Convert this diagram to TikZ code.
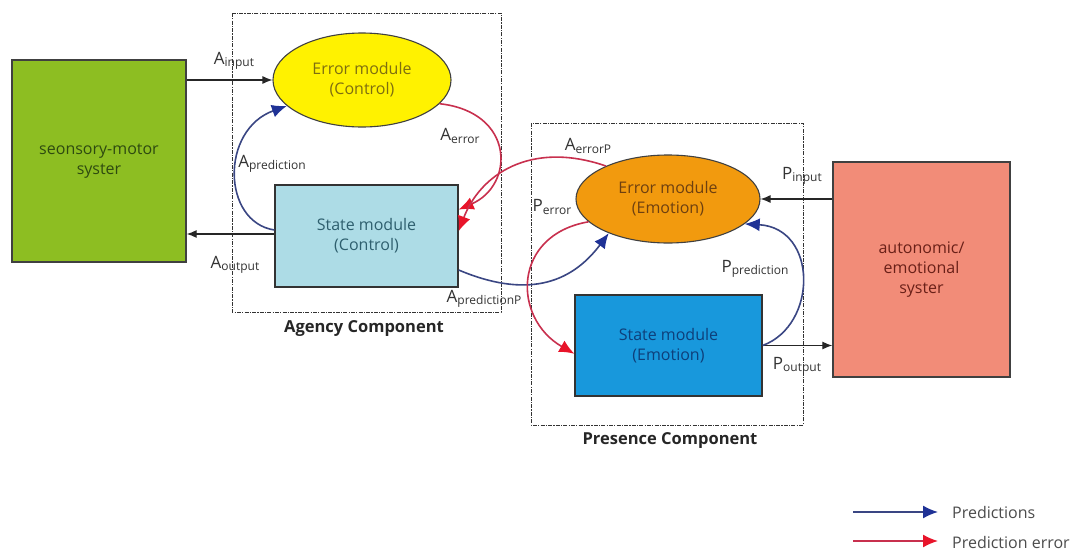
\documentclass[tikz,border=0pt]{standalone}
\usepackage{fontspec}
\setmainfont{Open Sans}
\usetikzlibrary{arrows.meta,shapes.geometric}
\definecolor{smgreen}{HTML}{8DBE22}
\definecolor{smtext}{HTML}{2E4A10}
\definecolor{ctrlyellow}{HTML}{FFF200}
\definecolor{ctrltext}{HTML}{7E6E10}
\definecolor{ctrlblue}{HTML}{ADDCE6}
\definecolor{ctrlbluetext}{HTML}{2E5F6E}
\definecolor{emoorange}{HTML}{F29A0E}
\definecolor{emoorangetext}{HTML}{6E4010}
\definecolor{emoblue}{HTML}{1898DC}
\definecolor{emobluetext}{HTML}{0E3F7A}
\definecolor{autored}{HTML}{F28C78}
\definecolor{autotext}{HTML}{6A2018}
\definecolor{predline}{HTML}{3A4683}
\definecolor{predtip}{HTML}{1F3296}
\definecolor{errline}{HTML}{C8304E}
\definecolor{errtip}{HTML}{E8142A}
\definecolor{labgray}{HTML}{333333}
\tikzset{
  modbox/.style={draw=black!80, line width=1.3pt, align=center, font=\fontsize{16}{20}\selectfont},
  modell/.style={ellipse, draw=black!75, line width=1.1pt, align=center, font=\fontsize{16}{20}\selectfont},
  frame/.style={draw=black!80, line width=1pt, dash pattern=on 4pt off 1.2pt on 1.2pt off 1.2pt},
  flow/.style={draw=black!85, line width=1.2pt, -{Latex[length=10pt,width=8pt]}},
  pred/.style={draw=predline, line width=1.6pt, -{Latex[length=15pt,width=13pt,color=predtip]}},
  perr/.style={draw=errline, line width=1.6pt, -{Latex[length=15pt,width=13pt,color=errtip]}},
  lab/.style={text=labgray, inner sep=0pt, font=\fontsize{17}{17}\selectfont},
  comp/.style={font=\bfseries\fontsize{16.5}{16.5}\selectfont, text=black!85},
}
\newcommand{\sublab}[2]{#1\raisebox{-2.5pt}{\fontsize{12}{12}\selectfont #2}}
\begin{document}
\begin{tikzpicture}[x=1pt,y=-1pt]
\useasboundingbox (0,0) rectangle (1088,557);
\fill[white] (0,0) rectangle (1088,557);

% component frames
\draw[frame] (232,13) rectangle (501,312);
\node[comp] (agency) at (364,329) {Agency Component};
\draw[frame] (531,123) rectangle (803,425);
\node[comp] (presence) at (670,441) {Presence Component};

% outer systems
\node[draw=black!75, line width=1.3pt, fill=smgreen, minimum width=174pt, minimum height=202pt,
      align=center, text=smtext, font=\fontsize{16}{20}\selectfont] (sm) at (99,161) {seonsory-motor\\ syster};
\node[draw=black!75, line width=1.3pt, fill=autored, minimum width=177pt, minimum height=215pt,
      align=center, text=autotext, font=\fontsize{16}{20}\selectfont] (auto) at (921.5,269.5) {autonomic/\\ emotional\\ syster};

% agency modules
\node[modell, fill=ctrlyellow, text=ctrltext, minimum width=178pt, minimum height=94pt] (errc) at (362,80) {Error module\\(Control)};
\node[modbox, fill=ctrlblue, text=ctrlbluetext, minimum width=183pt, minimum height=102pt] (statec) at (366.5,236) {State module\\(Control)};

% presence modules
\node[modell, fill=emoorange, text=emoorangetext, minimum width=184pt, minimum height=88pt] (erre) at (668,199) {Error module\\(Emotion)};
\node[modbox, fill=emoblue, text=emobluetext, minimum width=187pt, minimum height=101pt] (statee) at (668.5,345.5) {State module\\(Emotion)};

% input / output flows
\draw[flow] (sm.east |- errc.west) -- (errc.west);
\draw[flow] (statec.west) ++(0,-2) coordinate (co) -- (sm.east |- co);
\draw[flow] (auto.west |- erre.east) -- (erre.east);
\draw[flow] (statee.east) -- (auto.west |- statee.east);

% prediction loops
\draw[pred] (statec.west) ++(0,-6) .. controls (222,222) and (220,130) .. (errc.-161);
\draw[pred] (statec.east) ++(0,34) .. controls (525,298) and (570,285) .. (erre.-150);
\draw[pred] (statee.east) .. controls (818,325) and (818,228) .. (erre.-18);

% prediction-error loops
\draw[perr] (errc.-17) .. controls (515,112) and (515,185) .. (statec.16);
\draw[perr] (erre.152) .. controls (530,140) and (480,175) .. (statec.3);
\draw[perr] (erre.-164) .. controls (512,235) and (512,318) .. (statee.185);

% flow labels
\node[lab] (lai) at (234,61) {\sublab{A}{input}};
\node[lab] (lao) at (235,265) {\sublab{A}{output}};
\node[lab] (lap) at (272,164) {\sublab{A}{prediction}};
\node[lab] (lae) at (460,136) {\sublab{A}{error}};
\node[lab] (laep) at (588,146) {\sublab{A}{errorP}};
\node[lab] (lapp) at (484,299) {\sublab{A}{predictionP}};
\node[lab] (lpe) at (552,207) {\sublab{P}{error}};
\node[lab] (lpp) at (755,269) {\sublab{P}{prediction}};
\node[lab] (lpi) at (802,176) {\sublab{P}{input}};
\node[lab] (lpo) at (797,366) {\sublab{P}{output}};

% legend
\coordinate (lg1a) at (853,512);
\coordinate (lg1b) at (938,512);
\coordinate (lg2a) at (853,541);
\coordinate (lg2b) at (938,541);
\draw[pred] (lg1a) -- (lg1b);
\draw[perr] (lg2a) -- (lg2b);
\node[lab, anchor=west, text=black!70, font=\fontsize{16}{16}\selectfont] (lgp) at (952,512) {Predictions};
\node[lab, anchor=west, text=black!70, font=\fontsize{16}{16}\selectfont] (lge) at (952,542) {Prediction error};
\end{tikzpicture}
\end{document}
